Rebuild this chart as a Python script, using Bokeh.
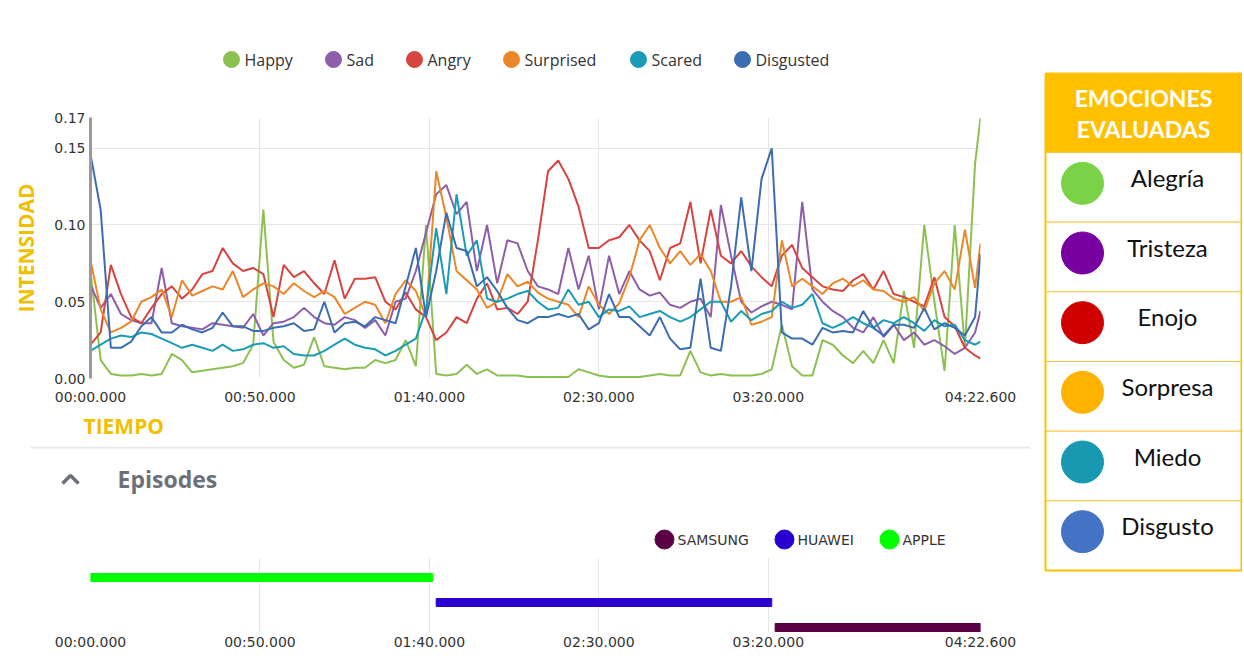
from bokeh.plotting import figure
from bokeh.models import Range1d, FixedTicker, Title
from bokeh.layouts import column, row
from bokeh.embed import file_html
from bokeh.resources import INLINE
from bokeh.core.properties import value

# ---------------- data ----------------
TIME_S = [3 * i for i in range(88)] + [262.6]

HAPPY = [0.07, 0.012, 0.003, 0.002, 0.002, 0.003, 0.002, 0.003, 0.016, 0.012,
         0.004, 0.005, 0.006, 0.007, 0.008, 0.01, 0.022, 0.11, 0.024, 0.012,
         0.007, 0.009, 0.027, 0.008, 0.007, 0.006, 0.007, 0.007, 0.012, 0.01,
         0.012, 0.025, 0.008, 0.1, 0.003, 0.002, 0.003, 0.009, 0.003, 0.006,
         0.002, 0.002, 0.002, 0.001, 0.001, 0.001, 0.001, 0.001, 0.006, 0.004,
         0.002, 0.001, 0.001, 0.001, 0.001, 0.002, 0.003, 0.002, 0.002, 0.018,
         0.004, 0.002, 0.003, 0.002, 0.002, 0.002, 0.003, 0.006, 0.035, 0.008,
         0.002, 0.002, 0.025, 0.022, 0.015, 0.01, 0.018, 0.01, 0.025, 0.01,
         0.057, 0.02, 0.1, 0.05, 0.005, 0.1, 0.02, 0.14,
         0.17]
SAD = [0.061, 0.046, 0.055, 0.042, 0.038, 0.036, 0.036, 0.072, 0.036, 0.034,
       0.033, 0.032, 0.036, 0.035, 0.034, 0.033, 0.042, 0.028, 0.036, 0.037,
       0.04, 0.046, 0.04, 0.036, 0.035, 0.04, 0.038, 0.033, 0.038, 0.028,
       0.05, 0.052, 0.07, 0.095, 0.12, 0.126, 0.107, 0.115, 0.07, 0.1,
       0.062, 0.09, 0.088, 0.07, 0.06, 0.058, 0.055, 0.085, 0.058, 0.08,
       0.045, 0.08, 0.055, 0.07, 0.058, 0.054, 0.056, 0.048, 0.046, 0.05,
       0.052, 0.04, 0.113, 0.08, 0.05, 0.043, 0.047, 0.05, 0.048, 0.045,
       0.115, 0.058, 0.05, 0.044, 0.04, 0.033, 0.03, 0.04, 0.027, 0.035,
       0.025, 0.03, 0.022, 0.025, 0.021, 0.016, 0.02, 0.03,
       0.044]
ANGRY = [0.022, 0.03, 0.074, 0.055, 0.04, 0.036, 0.046, 0.055, 0.06, 0.052,
         0.058, 0.068, 0.07, 0.085, 0.075, 0.07, 0.072, 0.068, 0.04, 0.074,
         0.066, 0.07, 0.062, 0.055, 0.077, 0.052, 0.065, 0.065, 0.066, 0.05,
         0.045, 0.056, 0.045, 0.04, 0.025, 0.03, 0.04, 0.036, 0.052, 0.062,
         0.045, 0.046, 0.042, 0.05, 0.09, 0.135, 0.142, 0.13, 0.112, 0.085,
         0.085, 0.09, 0.092, 0.1, 0.09, 0.083, 0.064, 0.085, 0.088, 0.115,
         0.075, 0.11, 0.08, 0.075, 0.083, 0.073, 0.066, 0.06, 0.08, 0.087,
         0.072, 0.066, 0.06, 0.058, 0.057, 0.064, 0.068, 0.058, 0.07, 0.055,
         0.053, 0.05, 0.047, 0.066, 0.04, 0.034, 0.02, 0.015,
         0.013]
SURPRISED = [0.077, 0.045, 0.03, 0.033, 0.037, 0.05, 0.053, 0.058, 0.04, 0.064,
             0.054, 0.057, 0.06, 0.058, 0.07, 0.053, 0.058, 0.062, 0.06, 0.055,
             0.062, 0.057, 0.053, 0.057, 0.053, 0.042, 0.046, 0.05, 0.048, 0.036,
             0.055, 0.064, 0.057, 0.04, 0.135, 0.105, 0.07, 0.064, 0.058, 0.046,
             0.05, 0.068, 0.06, 0.063, 0.056, 0.052, 0.05, 0.048, 0.04, 0.06,
             0.048, 0.042, 0.049, 0.066, 0.09, 0.1, 0.085, 0.075, 0.083, 0.074,
             0.081, 0.07, 0.05, 0.05, 0.053, 0.035, 0.037, 0.04, 0.09, 0.06,
             0.065, 0.06, 0.055, 0.062, 0.065, 0.06, 0.064, 0.058, 0.057, 0.052,
             0.05, 0.053, 0.044, 0.062, 0.07, 0.058, 0.097, 0.059,
             0.088]
SCARED = [0.018, 0.022, 0.026, 0.028, 0.027, 0.03, 0.029, 0.026, 0.023, 0.02,
          0.022, 0.02, 0.018, 0.022, 0.018, 0.019, 0.022, 0.023, 0.02, 0.021,
          0.016, 0.015, 0.015, 0.018, 0.022, 0.026, 0.022, 0.02, 0.019, 0.015,
          0.018, 0.022, 0.026, 0.045, 0.098, 0.055, 0.12, 0.08, 0.09, 0.052,
          0.05, 0.052, 0.055, 0.057, 0.05, 0.045, 0.046, 0.058, 0.048, 0.05,
          0.04, 0.045, 0.044, 0.047, 0.04, 0.042, 0.044, 0.04, 0.037, 0.04,
          0.045, 0.05, 0.05, 0.037, 0.044, 0.038, 0.042, 0.044, 0.05, 0.046,
          0.048, 0.055, 0.036, 0.033, 0.036, 0.04, 0.036, 0.033, 0.038, 0.036,
          0.04, 0.036, 0.031, 0.038, 0.034, 0.035, 0.025, 0.022,
          0.024]
DISGUSTED = [0.146, 0.11, 0.02, 0.02, 0.024, 0.034, 0.04, 0.03, 0.03, 0.035,
             0.032, 0.03, 0.033, 0.043, 0.034, 0.034, 0.031, 0.031, 0.033, 0.034,
             0.036, 0.031, 0.032, 0.05, 0.03, 0.036, 0.037, 0.034, 0.04, 0.038,
             0.036, 0.06, 0.085, 0.04, 0.07, 0.108, 0.085, 0.083, 0.06, 0.066,
             0.057, 0.046, 0.038, 0.036, 0.04, 0.04, 0.042, 0.04, 0.042, 0.032,
             0.036, 0.055, 0.04, 0.04, 0.034, 0.028, 0.04, 0.026, 0.019, 0.02,
             0.065, 0.02, 0.018, 0.06, 0.118, 0.07, 0.13, 0.15, 0.03, 0.026,
             0.026, 0.022, 0.033, 0.03, 0.031, 0.03, 0.044, 0.033, 0.028, 0.035,
             0.035, 0.033, 0.046, 0.032, 0.036, 0.033, 0.028, 0.04,
             0.081]

SERIES_NAMES = ["Happy", "Sad", "Angry", "Surprised", "Scared", "Disgusted"]
SERIES_VALUES = [HAPPY, SAD, ANGRY, SURPRISED, SCARED, DISGUSTED]
SERIES_COLORS = ["#8CC152", "#8E5EAA", "#D6443F", "#EC8729", "#1B9CB6", "#3B6DB3"]

X_TICKS = [0, 50, 100, 150, 200, 262.6]
X_TICK_LABELS = ["00:00.000", "00:50.000", "01:40.000", "02:30.000", "03:20.000", "04:22.600"]
X_GRID = [0, 50, 100, 150, 200]
Y_TICKS = [0, 0.05, 0.10, 0.15, 0.17]
Y_TICK_LABELS = ["0.00", "0.05", "0.10", "0.15", "0.17"]
Y_GRID = [0, 0.05, 0.10, 0.15]

EPISODES = ["APPLE", "HUAWEI", "SAMSUNG"]
EP_START = [0, 102, 202]
EP_END = [101, 201, 262.6]
EP_COLORS = ["#00FF00", "#2A00CF", "#5C0046"]
EP_LEGEND_ORDER = ["SAMSUNG", "HUAWEI", "APPLE"]

EMOCIONES = ["Alegría", "Tristeza", "Enojo", "Sorpresa", "Miedo", "Disgusto"]
EMOCION_COLORS = ["#7AD246", "#7800A0", "#D00000", "#FFB300", "#1899B1", "#4472C4"]

for s in SERIES_VALUES:
    assert len(s) == len(TIME_S)

# ---------------- styles / layout constants ----------------
FONT = "Open Sans"
TICK_FONT = "DejaVu Sans"
TICK_SIZE = "14px"
TICK_COLOR = "#333333"
GRID_COLOR = "#e6e6e6"
YELLOW = "#F0C000"
LEFT_W = 1038


def no_align(p):
    try:
        p.frame_align = False
    except Exception:
        pass
    p.outline_line_color = None
    return p


def deco_fig(w, h):
    p = figure(width=w, height=h, x_range=Range1d(0, w), y_range=Range1d(h, 0),
               x_axis_type=None, y_axis_type=None, output_backend="svg",
               toolbar_location=None, title=None, min_border=0)
    return no_align(p)


def style_x_axis(ax, standoff):
    ax.ticker = FixedTicker(ticks=X_TICKS)
    ax.major_label_overrides = dict(zip(X_TICKS, X_TICK_LABELS))
    ax.axis_line_color = None
    ax.major_tick_line_color = None
    ax.minor_tick_line_color = None
    ax.major_tick_out = 0
    ax.major_tick_in = 0
    ax.major_label_standoff = standoff
    ax.major_label_text_font = TICK_FONT
    ax.major_label_text_font_size = TICK_SIZE
    ax.major_label_text_color = TICK_COLOR


# ---------------- top legend row ----------------
pL = deco_fig(LEFT_W, 96)
LEG_X = [231, 333, 414, 511, 638, 742]
LEG_Y = 59
pL.scatter(x=LEG_X, y=[LEG_Y] * len(LEG_X), marker="circle", size=16, color=SERIES_COLORS)
pL.text(x=[x + 13 for x in LEG_X], y=[LEG_Y] * len(LEG_X), text=SERIES_NAMES,
        text_font=value(FONT), text_font_size="16px", text_color=TICK_COLOR,
        text_baseline="middle", text_align="left")

# ---------------- main chart ----------------
pA = figure(width=LEFT_W, height=350, x_range=Range1d(0, 262.6), y_range=Range1d(0, 0.17),
            output_backend="svg", toolbar_location=None, title=None,
            min_border_left=90, min_border_right=58, min_border_top=21, min_border_bottom=68)
no_align(pA)
pA.xgrid.ticker = FixedTicker(ticks=X_GRID)
pA.ygrid.ticker = FixedTicker(ticks=Y_GRID)
pA.grid.grid_line_color = GRID_COLOR

for name, vals, col in zip(SERIES_NAMES, SERIES_VALUES, SERIES_COLORS):
    pA.line(TIME_S, vals, line_color=col, line_width=2)

style_x_axis(pA.xaxis[0], 10)

ya = pA.yaxis[0]
ya.ticker = FixedTicker(ticks=Y_TICKS)
ya.major_label_overrides = dict(zip(Y_TICKS, Y_TICK_LABELS))
ya.axis_line_color = "#999999"
ya.axis_line_width = 3
ya.major_tick_line_color = None
ya.minor_tick_line_color = None
ya.major_tick_out = 0
ya.major_tick_in = 0
ya.major_label_standoff = 5
ya.major_label_text_font = TICK_FONT
ya.major_label_text_font_size = TICK_SIZE
ya.major_label_text_color = TICK_COLOR
ya.axis_label = "INTENSIDAD"
ya.axis_label_text_font = FONT
ya.axis_label_text_font_size = "21px"
ya.axis_label_text_font_style = "bold"
ya.axis_label_text_color = YELLOW
ya.axis_label_standoff = 11

pA.add_layout(Title(text="TIEMPO", align="left", offset=-7, standoff=4,
                    text_font=FONT, text_font_size="21px", text_font_style="bold",
                    text_color=YELLOW), "below")

# ---------------- "Episodes" header ----------------
H_H = 111
pH = deco_fig(LEFT_W, H_H)
pH.segment(x0=[30], y0=[1], x1=[1030], y1=[1], line_color="#e8e8e8", line_width=2)
pH.line(x=[62, 70, 78], y=[37, 29, 37], line_color="#6b7079", line_width=3.5)
pH.text(x=[117], y=[32], text=["Episodes"], text_font=value(FONT), text_font_size="23px",
        text_font_style="bold", text_color="#6b7079", text_baseline="middle", text_align="left")
EP_LEG_X = [664, 784, 889]
ep_col = dict(zip(EPISODES, EP_COLORS))
pH.scatter(x=EP_LEG_X, y=[93] * 3, marker="circle", size=19,
           color=[ep_col[n] for n in EP_LEGEND_ORDER])
pH.text(x=[x + 13 for x in EP_LEG_X], y=[93] * 3, text=EP_LEGEND_ORDER,
        text_font=value(TICK_FONT), text_font_size="14px", text_color=TICK_COLOR,
        text_baseline="middle", text_align="left")

# ---------------- episodes timeline ----------------
pB = figure(width=LEFT_W, height=99, x_range=Range1d(0, 262.6), y_range=Range1d(-0.2, 2.8),
            y_axis_type=None, output_backend="svg", toolbar_location=None, title=None,
            min_border_left=90, min_border_right=58, min_border_top=0, min_border_bottom=24)
no_align(pB)
lanes = [len(EPISODES) - 1 - i for i in range(len(EPISODES))]
pB.hbar(y=lanes, left=EP_START, right=EP_END, height=0.32, color=EP_COLORS)
pB.xgrid.ticker = FixedTicker(ticks=X_GRID)
pB.xgrid.grid_line_color = GRID_COLOR
style_x_axis(pB.xaxis[0], 1)

# ---------------- emotions box ----------------
C_W, C_H = 204, 656
pC = deco_fig(C_W, C_H)
BOX_L, BOX_R, BOX_T, HEAD_B, BOX_B = 7, 203, 73, 152, 570
row_h = (BOX_B - HEAD_B) / len(EMOCIONES)
tops = [HEAD_B + i * row_h for i in range(len(EMOCIONES))]
pC.quad(left=[BOX_L], right=[BOX_R], top=[BOX_T], bottom=[HEAD_B], fill_color="#FFC000", line_color="#FFC000")
pC.quad(left=[BOX_L] * len(tops), right=[BOX_R] * len(tops), top=tops, bottom=[t + row_h for t in tops],
        fill_color="white", line_color="#F6C64A", line_width=1)
pC.quad(left=[BOX_L], right=[BOX_R], top=[BOX_T], bottom=[BOX_B], fill_color=None,
        line_color="#FFC000", line_width=2)
pC.text(x=[105, 105], y=[97, 128], text=["EMOCIONES", "EVALUADAS"], text_font=value("Lato"),
        text_font_size="23px", text_font_style="bold", text_color="white",
        text_align="center", text_baseline="middle")
centers = [t + row_h / 2 for t in tops]
pC.scatter(x=[44] * len(centers), y=[c - 4 for c in centers], marker="circle", size=42,
           color=EMOCION_COLORS)
pC.text(x=[129] * len(centers), y=[c - 10 for c in centers], text=EMOCIONES,
        text_font=value("Lato"), text_font_size="24px", text_color="#111111",
        text_align="center", text_baseline="middle")

layout = row(column(pL, pA, pH, pB), pC)
open("out.html", "w").write(file_html(layout, INLINE))
